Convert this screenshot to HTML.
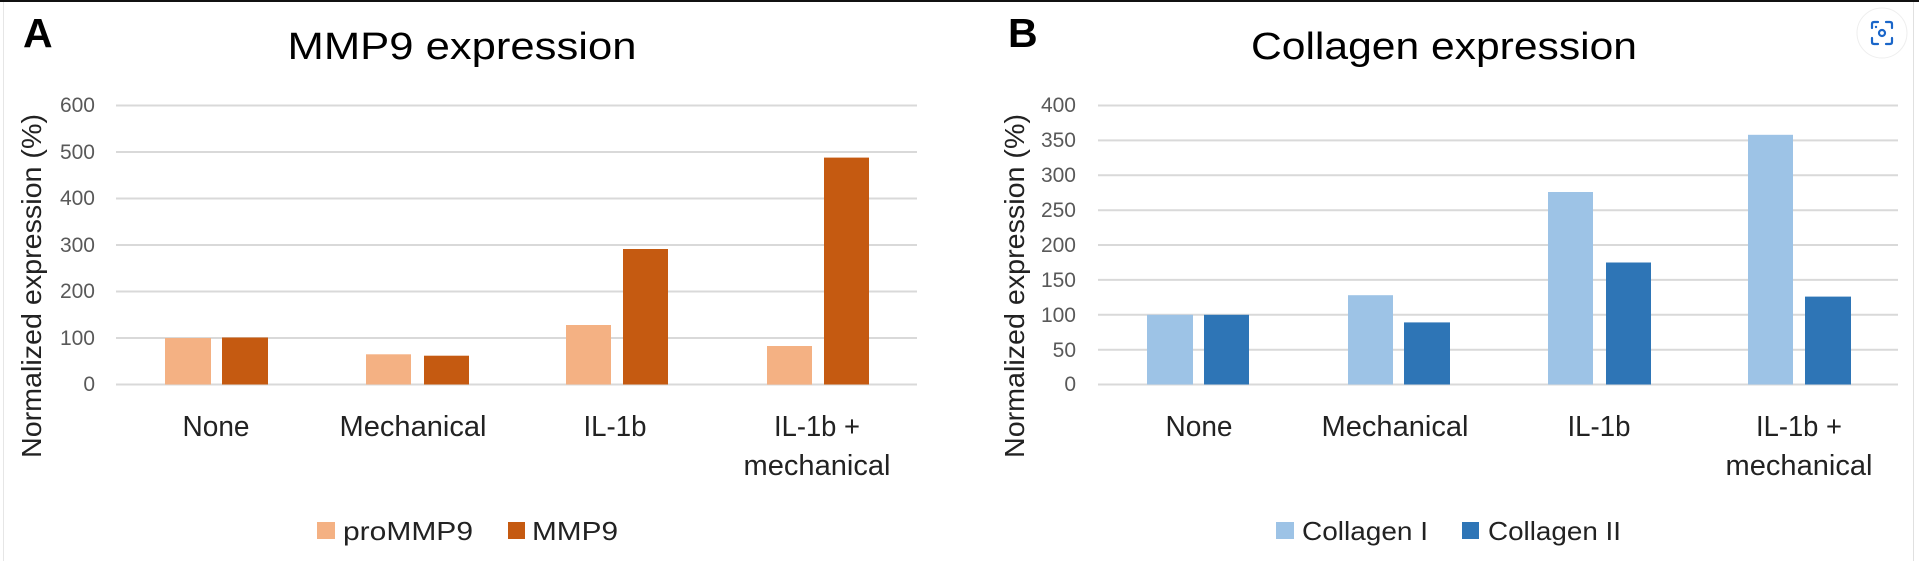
<!DOCTYPE html>
<html><head><meta charset="utf-8"><style>
html,body{margin:0;padding:0;background:#fff;}
svg{display:block;}
text{font-family:"Liberation Sans",sans-serif;}
</style></head><body>
<svg width="1919" height="561" viewBox="0 0 1919 561" xmlns="http://www.w3.org/2000/svg">
<rect width="1919" height="561" fill="#fff"/>
<rect x="0" y="0" width="1919" height="2" fill="#111"/>
<line x1="3.5" y1="2" x2="3.5" y2="561" stroke="#e6e6e6"/>
<line x1="1913.5" y1="2" x2="1913.5" y2="561" stroke="#e0e0e0"/>

<!-- Panel A -->
<text x="23" y="47" font-size="41" font-weight="bold" fill="#000">A</text>
<text x="462" y="59" font-size="38" text-anchor="middle" textLength="349" lengthAdjust="spacingAndGlyphs" fill="#000">MMP9 expression</text>
<g stroke="#d9d9d9" stroke-width="2">
<line x1="116" x2="917" y1="105.5" y2="105.5"/><line x1="116" x2="917" y1="152" y2="152"/>
<line x1="116" x2="917" y1="198.5" y2="198.5"/><line x1="116" x2="917" y1="245" y2="245"/>
<line x1="116" x2="917" y1="291.5" y2="291.5"/><line x1="116" x2="917" y1="338" y2="338"/>
<line x1="116" x2="917" y1="384.5" y2="384.5"/>
</g>
<g font-size="21" fill="#595959" text-anchor="end">
<text x="95" y="112">600</text><text x="95" y="159">500</text><text x="95" y="205">400</text>
<text x="95" y="252">300</text><text x="95" y="298">200</text><text x="95" y="345">100</text><text x="95" y="391">0</text>
</g>
<text transform="translate(41,286) rotate(-90)" font-size="28" fill="#222" text-anchor="middle" textLength="344" lengthAdjust="spacingAndGlyphs">Normalized expression (%)</text>
<g fill="#F4B183">
<rect x="165" y="338" width="46" height="46.5"/>
<rect x="366" y="354.3" width="45" height="30.2"/>
<rect x="566" y="325" width="45" height="59.5"/>
<rect x="767" y="346" width="45" height="38.6"/>
</g>
<g fill="#C55A11">
<rect x="222" y="337.5" width="46" height="47"/>
<rect x="424" y="355.7" width="45" height="28.8"/>
<rect x="623" y="249" width="45" height="135.5"/>
<rect x="824" y="157.6" width="45" height="226.9"/>
</g>
<g font-size="29" fill="#222" text-anchor="middle">
<text x="216" y="436" textLength="67" lengthAdjust="spacingAndGlyphs">None</text>
<text x="413" y="436" textLength="147" lengthAdjust="spacingAndGlyphs">Mechanical</text>
<text x="615" y="436" textLength="63" lengthAdjust="spacingAndGlyphs">IL-1b</text>
<text x="817" y="436" textLength="86" lengthAdjust="spacingAndGlyphs">IL-1b +</text>
<text x="817" y="475" textLength="147" lengthAdjust="spacingAndGlyphs">mechanical</text>
</g>
<rect x="317" y="522" width="18" height="17" fill="#F4B183"/>
<text x="343" y="540" font-size="26" fill="#222" textLength="130" lengthAdjust="spacingAndGlyphs">proMMP9</text>
<rect x="508" y="522" width="17" height="17" fill="#C55A11"/>
<text x="532" y="540" font-size="26" fill="#222" textLength="86" lengthAdjust="spacingAndGlyphs">MMP9</text>

<!-- Panel B -->
<text x="1008" y="47" font-size="41" font-weight="bold" fill="#000">B</text>
<text x="1444" y="59" font-size="38" text-anchor="middle" textLength="386" lengthAdjust="spacingAndGlyphs" fill="#000">Collagen expression</text>
<g stroke="#d9d9d9" stroke-width="2">
<line x1="1098" x2="1898" y1="105.5" y2="105.5"/><line x1="1098" x2="1898" y1="140.4" y2="140.4"/>
<line x1="1098" x2="1898" y1="175.3" y2="175.3"/><line x1="1098" x2="1898" y1="210.2" y2="210.2"/>
<line x1="1098" x2="1898" y1="245" y2="245"/><line x1="1098" x2="1898" y1="279.9" y2="279.9"/>
<line x1="1098" x2="1898" y1="314.8" y2="314.8"/><line x1="1098" x2="1898" y1="349.7" y2="349.7"/>
<line x1="1098" x2="1898" y1="384.5" y2="384.5"/>
</g>
<g font-size="21" fill="#595959" text-anchor="end">
<text x="1076" y="112">400</text><text x="1076" y="147">350</text><text x="1076" y="182">300</text>
<text x="1076" y="217">250</text><text x="1076" y="252">200</text><text x="1076" y="287">150</text>
<text x="1076" y="322">100</text><text x="1076" y="357">50</text><text x="1076" y="391">0</text>
</g>
<text transform="translate(1024,286) rotate(-90)" font-size="28" fill="#222" text-anchor="middle" textLength="344" lengthAdjust="spacingAndGlyphs">Normalized expression (%)</text>
<g fill="#9DC3E6">
<rect x="1147" y="314.8" width="46" height="69.7"/>
<rect x="1348" y="295.2" width="45" height="89.3"/>
<rect x="1548" y="192" width="45" height="192.5"/>
<rect x="1748" y="134.8" width="45" height="249.7"/>
</g>
<g fill="#2E75B6">
<rect x="1204" y="314.8" width="45" height="69.7"/>
<rect x="1404" y="322.4" width="46" height="62.1"/>
<rect x="1606" y="262.5" width="45" height="122"/>
<rect x="1805" y="296.6" width="46" height="87.9"/>
</g>
<g font-size="29" fill="#222" text-anchor="middle">
<text x="1199" y="436" textLength="67" lengthAdjust="spacingAndGlyphs">None</text>
<text x="1395" y="436" textLength="147" lengthAdjust="spacingAndGlyphs">Mechanical</text>
<text x="1599" y="436" textLength="63" lengthAdjust="spacingAndGlyphs">IL-1b</text>
<text x="1799" y="436" textLength="86" lengthAdjust="spacingAndGlyphs">IL-1b +</text>
<text x="1799" y="475" textLength="147" lengthAdjust="spacingAndGlyphs">mechanical</text>
</g>
<rect x="1276" y="522" width="18" height="17" fill="#9DC3E6"/>
<text x="1302" y="540" font-size="26" fill="#222" textLength="126" lengthAdjust="spacingAndGlyphs">Collagen I</text>
<rect x="1462" y="522" width="17" height="17" fill="#2E75B6"/>
<text x="1488" y="540" font-size="26" fill="#222" textLength="133" lengthAdjust="spacingAndGlyphs">Collagen II</text>

<!-- icon -->
<circle cx="1882" cy="33" r="25" fill="#fff" stroke="#eee" stroke-width="1"/>
<g fill="none" stroke="#1a66c9" stroke-width="2.2" stroke-linecap="round">
<path d="M1872 28 v-4 q0-2 2-2 h4"/><path d="M1886 22 h4 q2 0 2 2 v4"/>
<path d="M1892 38 v4 q0 2-2 2 h-4"/><path d="M1878 44 h-4 q-2 0-2-2 v-4"/>
<circle cx="1882" cy="33" r="3"/>
</g>
<circle cx="1876" cy="27" r="1.2" fill="#1a66c9"/>
</svg>
</body></html>
